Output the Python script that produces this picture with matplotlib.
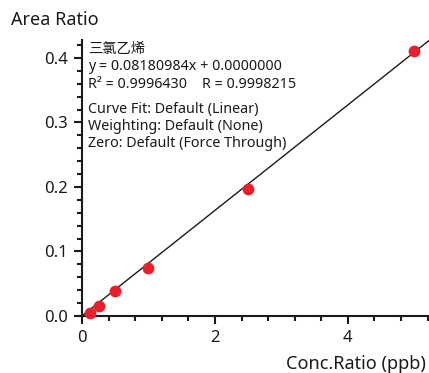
import matplotlib.pyplot as plt
from matplotlib.ticker import MultipleLocator
import numpy as np

plt.rcParams['font.family'] = ['Noto Sans', 'Noto Sans CJK SC', 'DejaVu Sans']

# ----- DATA -----
conc = [0.125, 0.25, 0.5, 1.0, 2.5, 5.0]
area = [0.005, 0.0155, 0.039, 0.074, 0.197, 0.411]
slope = 0.08180984
compound = "三氯乙烯"
info_lines = [
    "y = 0.08180984x + 0.0000000",
    "R² = 0.9996430    R = 0.9998215",
]
fit_lines = [
    "Curve Fit: Default (Linear)",
    "Weighting: Default (None)",
    "Zero: Default (Force Through)",
]

fig = plt.figure(figsize=(4.29, 3.73), dpi=100)
ax = fig.add_axes([0.191, 0.153, 0.809, 0.740])

xmax, ymax = 5.22, 0.428
xs = np.array([0, xmax])
ax.plot(xs, slope * xs, color='#1a1a1a', lw=1.0, zorder=2)
ax.plot(conc, area, 'o', color='#e8202a', ms=8.5, mec='none', zorder=3, clip_on=False)

ax.set_xlim(0, xmax)
ax.set_ylim(0, ymax)
ax.xaxis.set_major_locator(MultipleLocator(2))
ax.xaxis.set_minor_locator(MultipleLocator(0.4))
ax.yaxis.set_major_locator(MultipleLocator(0.1))
ax.yaxis.set_minor_locator(MultipleLocator(0.02))
ax.yaxis.set_major_formatter(plt.FormatStrFormatter('%.1f'))
for s in ['top', 'right']:
    ax.spines[s].set_visible(False)
for s in ['left', 'bottom']:
    ax.spines[s].set_linewidth(1.5)
    ax.spines[s].set_color('#1a1a1a')
ax.tick_params(which='major', length=5.8, width=1.5, labelsize=12, colors='#1a1a1a', pad=4)
ax.tick_params(which='minor', length=3.6, width=1.5, colors='#1a1a1a')

fig.text(11 / 429, 1 - 25 / 373, "Area Ratio", fontsize=13, va='baseline', ha='left', color='#1a1a1a')
fig.text(426 / 429, 1 - 369 / 373, "Conc.Ratio (ppb)", fontsize=13, va='baseline', ha='right', color='#1a1a1a')

# annotation block
tx = 88 / 429
dy = 17.5 / 373
ty0 = 1 - 49 / 373
for i, t in enumerate([compound] + info_lines):
    fig.text(tx, ty0 - i * dy, t, fontsize=10.3, va='center', ha='left', color='#1a1a1a')
ty1 = 1 - 109 / 373
for i, t in enumerate(fit_lines):
    fig.text(tx, ty1 - i * dy, t, fontsize=10.3, va='center', ha='left', color='#1a1a1a')

fig.savefig('out.png', dpi=100)
